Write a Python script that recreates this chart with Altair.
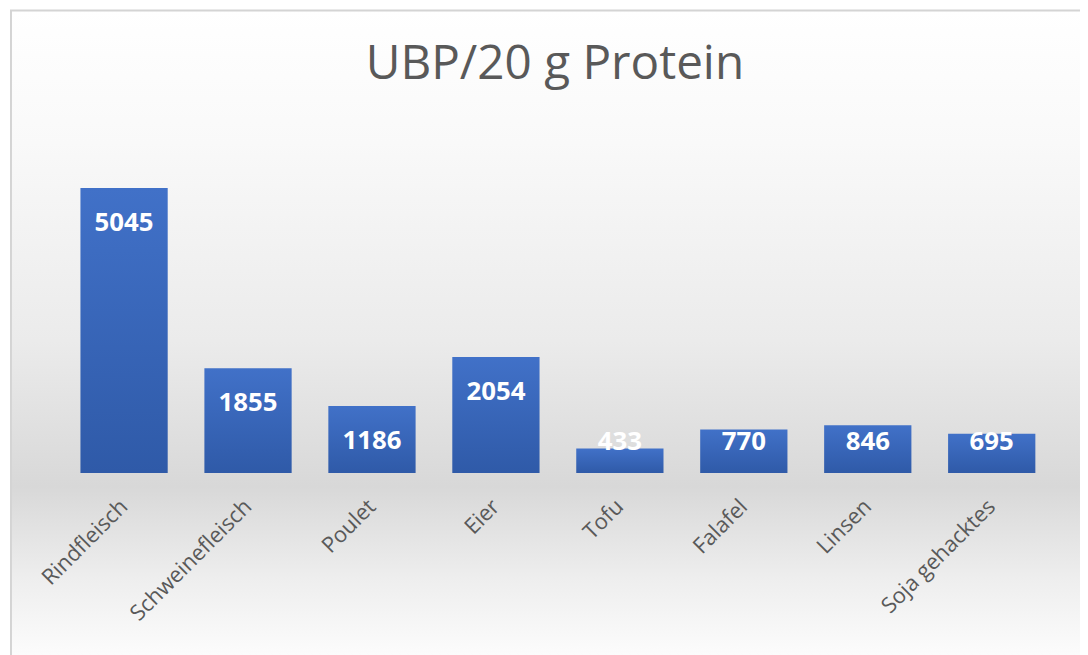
import altair as alt
import pandas as pd

categories = ["Rindfleisch", "Schweinefleisch", "Poulet", "Eier", "Tofu",
              "Falafel", "Linsen", "Soja gehacktes"]
values = [5045, 1855, 1186, 2054, 433, 770, 846, 695]
title_text = "UBP/20 g Protein"

df = pd.DataFrame({"cat": categories, "val": values})

W = 999
H = 341.3
FONT = "Open Sans"

x_scale = alt.Scale(domain=categories, paddingInner=0.296, paddingOuter=0.148)
y_scale = alt.Scale(domain=[0, 6000], nice=False)

bg_grad = alt.LinearGradient(
    gradient="linear", x1=0, x2=0, y1=0, y2=1,
    stops=[
        alt.GradientStop(offset=0.0, color="#ffffff"),
        alt.GradientStop(offset=0.2, color="#f9f9f9"),
        alt.GradientStop(offset=0.5, color="#ebebeb"),
        alt.GradientStop(offset=0.72, color="#d8d8d8"),
        alt.GradientStop(offset=0.86, color="#eeeeee"),
        alt.GradientStop(offset=1.0, color="#ffffff"),
    ],
)

bar_grad = alt.LinearGradient(
    gradient="linear", x1=0, x2=0, y1=0, y2=1,
    stops=[
        alt.GradientStop(offset=0.0, color="#4171c8"),
        alt.GradientStop(offset=1.0, color="#2f5aa8"),
    ],
)

bg = alt.Chart(pd.DataFrame({"a": [0]})).mark_rect(
    fill=bg_grad, stroke="#d4d4d4", strokeWidth=2
).encode(
    x=alt.value(-51.5), x2=alt.value(W + 40),
    y=alt.value(-124.7), y2=alt.value(H + 200),
)

base = alt.Chart(df)

bars = base.mark_bar(color=bar_grad).encode(
    x=alt.X("cat:N", scale=x_scale, sort=categories,
            axis=alt.Axis(title=None, domain=False, ticks=False, labelAngle=-45,
                          labelFontSize=22, labelColor="#595959", labelFont=FONT,
                          labelAlign="right", labelBaseline="middle",
                          labelPadding=30, zindex=1)),
    y=alt.Y("val:Q", scale=y_scale, axis=None),
)

labels = base.transform_calculate(
    ly="max(datum.val - 624, 545)"
).mark_text(
    color="white", fontWeight="bold", fontSize=26, font=FONT, baseline="middle"
).encode(
    x=alt.X("cat:N", scale=x_scale, sort=categories),
    y=alt.Y("ly:Q", scale=y_scale),
    text=alt.Text("val:Q", format="d"),
)

chart = alt.layer(bg, bars, labels).properties(
    width=W, height=H,
    title=alt.TitleParams(title_text, fontSize=48, font=FONT, fontWeight="normal",
                          color="#595959", anchor="middle", offset=-80, dx=-3),
    autosize=alt.AutoSizeParams(type="none"),
    padding={"left": 54.5, "top": 124.7, "right": 26.5, "bottom": 181},
    background="white",
).configure_view(stroke=None)

chart.save("out.html", embed_options={"renderer": "svg", "actions": False})
